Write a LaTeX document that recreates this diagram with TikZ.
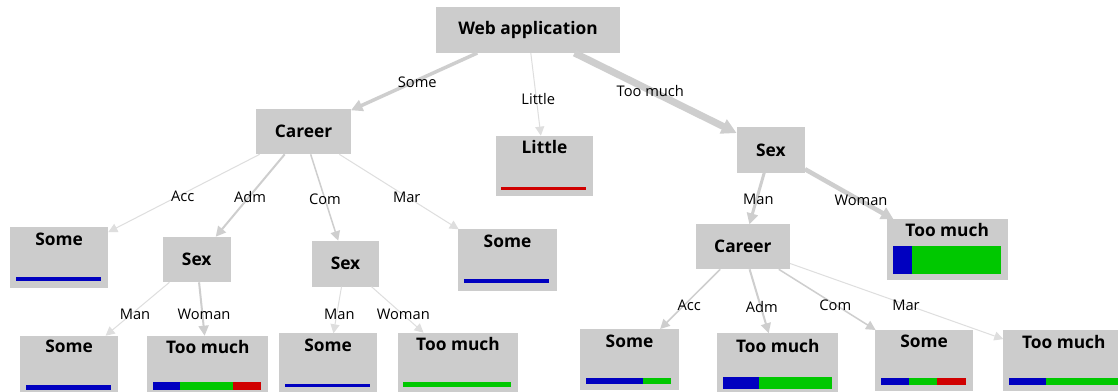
\documentclass[tikz,border=0pt]{standalone}
\usepackage{fontspec}
\setmainfont{Open Sans}
\usetikzlibrary{arrows.meta}
\definecolor{boxgray}{RGB}{204,204,204}
\definecolor{edgegray}{RGB}{206,206,206}
\definecolor{edgelight}{RGB}{222,222,222}
\definecolor{barblue}{RGB}{0,0,192}
\definecolor{bargreen}{RGB}{0,200,0}
\definecolor{barred}{RGB}{208,0,0}
\tikzset{
  box/.style={fill=boxgray, draw=none, inner sep=0pt, outer sep=0pt},
  sz/.style 2 args={minimum width={#1*0.75pt}, minimum height={#2*0.75pt}},
  nlab/.style={font=\fontsize{13}{15}\selectfont\bfseries, inner sep=0pt},
  elab/.style={font=\fontsize{11}{13}\selectfont, inner sep=0pt},
  conn/.style={draw=edgegray, line width={#1*0.75pt}, -{Triangle[length=6pt 1, width=6pt 1]}},
  faint/.style={draw=edgelight},
}
\begin{document}
\begin{tikzpicture}[x=0.75pt,y=-0.75pt]
\clip (0,0) rectangle (1118,392);
\fill[white] (0,0) rectangle (1118,392);

% inner nodes
\node[box,sz={184}{46},nlab] (web) at (528,30) {Web application};
\node[box,sz={95}{45},nlab] (car1) at (303.5,131.8) {Career};
\node[box,sz={68.3}{45.7},nlab] (sexR) at (770.8,149.9) {Sex};
\node[box,sz={68}{45.6},nlab] (sexL) at (196.7,259.5) {Sex};
\node[box,sz={67.6}{46},nlab] (sexM) at (345.5,263.7) {Sex};
\node[box,sz={94.3}{45},nlab] (carR) at (742.9,246.8) {Career};

% leaf boxes
\node[box,sz={97.6}{60.3}] (little) at (544.5,165.8) {};
\node[box,sz={98.3}{61}] (someA) at (59.2,257.2) {};
\node[box,sz={98.4}{61.4}] (someMar) at (507.5,260) {};
\node[box,sz={121}{60.7}] (tmW) at (947.2,249.7) {};
\node[box,sz={98.3}{61}] (someL) at (69.2,366.2) {};
\node[box,sz={121}{61}] (tmL) at (207.8,366.2) {};
\node[box,sz={98.3}{61}] (someM) at (328.2,363.8) {};
\node[box,sz={120.6}{61}] (tmM) at (458,363.2) {};
\node[box,sz={99}{61}] (someAcc) at (629.5,359.5) {};
\node[box,sz={121}{61}] (tmAdm) at (777.8,363.8) {};
\node[box,sz={98.3}{61}] (someCom) at (924.2,360.5) {};
\node[box,sz={121}{61}] (tmMar) at (1063.8,360.5) {};

% leaf titles
\node[nlab] (tLittle) at (544.5,146.7) {Little};
\node[nlab] (tSomeA) at (59.2,239) {Some};
\node[nlab] (tSomeMar) at (507.5,241.7) {Some};
\node[nlab] (tTmW) at (947.2,230) {Too much};
\node[nlab] (tSomeL) at (69.2,346.7) {Some};
\node[nlab] (tTmL) at (207.8,346.7) {Too much};
\node[nlab] (tSomeM) at (328.2,345) {Some};
\node[nlab] (tTmM) at (458,344.3) {Too much};
\node[nlab] (tSomeAcc) at (629.5,341) {Some};
\node[nlab] (tTmAdm) at (777.8,346) {Too much};
\node[nlab] (tSomeCom) at (924.2,341.7) {Some};
\node[nlab] (tTmMar) at (1063.8,341.7) {Too much};

% bars
\fill[barred] (501,186.7) rectangle (586,189.7);
\fill[barblue] (15.7,276.7) rectangle (101,281);
\fill[barblue] (464.3,279.3) rectangle (549.3,283.3);
\fill[barblue] (892.5,246) rectangle (912.3,274);
\fill[bargreen] (912.3,246) rectangle (1000.7,274);
\fill[barblue] (26,385) rectangle (111,390);
\fill[barblue] (153,382) rectangle (180,390.3);
\fill[bargreen] (180,382) rectangle (233.3,390.3);
\fill[barred] (233.3,382) rectangle (261,390.3);
\fill[barblue] (285.3,384.3) rectangle (370,387.3);
\fill[bargreen] (403.3,382.3) rectangle (511,387.3);
\fill[barblue] (586,377.7) rectangle (642.7,383.7);
\fill[bargreen] (642.7,377.7) rectangle (671.3,383.7);
\fill[barblue] (723.3,377.3) rectangle (759.3,389.3);
\fill[bargreen] (759.3,377.3) rectangle (831.7,389.3);
\fill[barblue] (881,378.3) rectangle (909.3,385);
\fill[bargreen] (909.3,378.3) rectangle (937.3,385);
\fill[barred] (937.3,378.3) rectangle (966,385);
\fill[barblue] (1009.3,378.3) rectangle (1045.7,385);
\fill[bargreen] (1045.7,378.3) rectangle (1118,385);

% connectors
\draw[conn=3.5] (web) -- (car1);
\draw[conn=1,faint] (web) -- (little);
\draw[conn=7] (web) -- (sexR);
\draw[conn=1,faint] (car1) -- (someA);
\draw[conn=2] (car1) -- (sexL);
\draw[conn=1.5] (car1) -- (sexM);
\draw[conn=1,faint] (car1) -- (someMar);
\draw[conn=1,faint] (sexL) -- (someL);
\draw[conn=2] (sexL) -- (tmL);
\draw[conn=1,faint] (sexM) -- (someM);
\draw[conn=1,faint] (sexM) -- (tmM);
\draw[conn=3] (sexR) -- (carR);
\draw[conn=4.5] (sexR) -- (tmW);
\draw[conn=1.5] (carR) -- (someAcc);
\draw[conn=2] (carR) -- (tmAdm);
\draw[conn=1.5] (carR) -- (someCom);
\draw[conn=1,faint] (carR) -- (tmMar);

% edge labels
\node[elab] (lSome) at (417.3,82.7) {Some};
\node[elab] (lLittle) at (538.3,99) {Little};
\node[elab] (lTooMuch) at (650.3,91) {Too much};
\node[elab] (lAcc1) at (182.7,196) {Acc};
\node[elab] (lAdm1) at (250,197) {Adm};
\node[elab] (lCom1) at (325,199.3) {Com};
\node[elab] (lMar1) at (406.7,197) {Mar};
\node[elab] (lManR) at (758.3,199.3) {Man};
\node[elab] (lWomanR) at (861,200.7) {Woman};
\node[elab] (lManL) at (135,314.3) {Man};
\node[elab] (lWomanL) at (204,314.3) {Woman};
\node[elab] (lManM) at (339.3,314.3) {Man};
\node[elab] (lWomanM) at (403.3,314.3) {Woman};
\node[elab] (lAcc2) at (689.3,305) {Acc};
\node[elab] (lAdm2) at (761.7,306.7) {Adm};
\node[elab] (lCom2) at (835.3,305) {Com};
\node[elab] (lMar2) at (906,305) {Mar};
\end{tikzpicture}
\end{document}
